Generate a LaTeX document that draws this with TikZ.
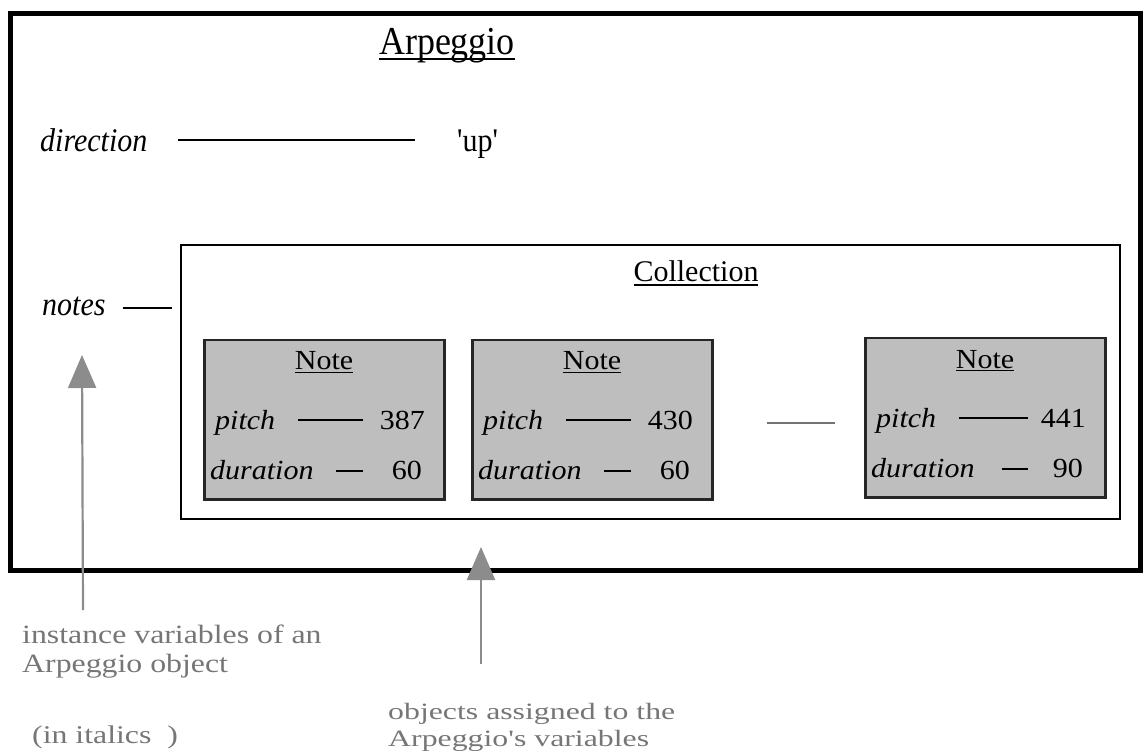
\documentclass[tikz,border=0pt]{standalone}
\usepackage{fontspec}
\setmainfont{Liberation Serif}[Ligatures=TeXOff]
\usetikzlibrary{arrows.meta,calc}

\definecolor{notefill}{HTML}{BEBEBE}
\definecolor{annot}{HTML}{767676}
\definecolor{pointer}{HTML}{8C8C8C}

% underline drawn close to the baseline, through the descenders
\newcommand{\ulword}[1]{\setbox0\hbox{#1}\rlap{\rule[-0.12em]{\wd0}{0.055em}}\box0}

\tikzset{
  frame/.style={draw=black, line width=5pt, inner sep=0pt},
  collbox/.style={draw=black, line width=2pt, inner sep=0pt},
  notebox/.style={draw=black!85, line width=2.5pt, fill=notefill, inner sep=0pt,
                  minimum width=240pt, minimum height=159pt},
  lbl/.style={inner sep=0pt, font=\fontsize{30}{34}\selectfont},
  ivar/.style={inner sep=0pt, font=\fontsize{30}{34}\selectfont\itshape},
  title/.style={inner sep=0pt, font=\fontsize{36}{40}\selectfont, yscale=1.1},
  tall/.style={yscale=1.1},
  note/.style={yscale=0.92},
  link/.style={draw=black, line width=1.6pt},
  gaplink/.style={draw=black!55, line width=1.6pt},
  ann/.style={inner sep=0pt, text=annot, font=\fontsize{30}{34}\selectfont, xscale=1.06},
  pointer/.style={draw=pointer, line width=2.2pt,
                  -{Triangle[width=28pt,length=33pt,fill=pointer]}},
}

\begin{document}
\begin{tikzpicture}[x=1pt,y=-1pt]
\useasboundingbox (0,0) rectangle (1146,751);
\fill[white] (0,0) rectangle (1146,751);

% the Arpeggio object
\node[frame, anchor=north west, minimum width=1130pt, minimum height=557pt] (arp) at (8,11) {};
\node[title, anchor=base] (arptitle) at (447,55) {\ulword{Arpeggio}};

% direction variable
\node[ivar, tall, anchor=base west] (dir) at (40,152) {direction};
\node[lbl, tall, anchor=base west] (up) at (457,152) {'up'};
\draw[link, shorten <=30pt, shorten >=42pt]
  ([yshift=12pt]dir.base east) -- ([yshift=12pt]dir.base east -| up.west);

% notes variable and its Collection
\node[collbox, anchor=north west, minimum width=939pt, minimum height=274pt] (coll) at (180,244) {};
\node[lbl, anchor=base] (colltitle) at (696,282) {\ulword{Collection}};
\node[ivar, tall, anchor=base west] (notes) at (42,316) {notes};
\draw[link, shorten <=17pt, shorten >=8pt]
  ([yshift=8pt]notes.base east) -- ([yshift=8pt]notes.base east -| coll.west);

% the Note objects held by the Collection
\foreach \nm/\L/\T/\pv/\dv/\ps/\ds/\dt in
  {n1/203/339/387/60/17/29/22, n2/471/339/430/60/17/29/22, n3/864/337/441/90/13/25/27} {
  \node[notebox, anchor=north west] (\nm) at (\L,\T) {};
  \node[lbl, note, anchor=base] (\nm-t) at ($(\nm.north west)+(121,31)$) {\ulword{Note}};
  \node[ivar, note, anchor=base west] (\nm-p) at ($(\nm.north west)+(12,90)$) {pitch};
  \node[lbl, note, anchor=base east] (\nm-pv) at ($(\nm.north west)+(222,90)$) {\pv};
  \node[ivar, note, anchor=base west] (\nm-d) at ($(\nm.north west)+(7,140)$) {duration};
  \node[lbl, note, anchor=base east] (\nm-dv) at ($(\nm.north west)+(219,140)$) {\dv};
  \draw[link, shorten <=23pt, shorten >=\ps pt]
    ([yshift=9pt]\nm-p.base east) -- ([yshift=9pt]\nm-pv.base west);
  \draw[link, shorten <=\dt pt, shorten >=\ds pt]
    ([yshift=8pt]\nm-d.base east) -- ([yshift=8pt]\nm-dv.base west);
}
\draw[gaplink, shorten <=53pt, shorten >=29pt] ([yshift=-3pt]n2.east) -- ([yshift=-3pt]n2.east -| n3.west);

% annotations below
\coordinate (ivtail) at (83,610);
\coordinate (ivtip) at (82,355);
\coordinate (objtail) at (481,664);
\coordinate (objtip) at (481,547);
\draw[pointer] (ivtail) -- (ivtip);
\draw[pointer] (objtail) -- (objtip);

\node[ann, yscale=0.88, anchor=base west] (iv1) at (22,643) {instance variables of an};
\node[ann, yscale=0.88, anchor=base west] (iv2) at (22,672) {Arpeggio object};
\node[ann, yscale=0.85, anchor=base west] (iv3) at (32,743) {(in italics\ \ )};
\node[ann, yscale=0.78, anchor=base west] (ob1) at (388,719) {objects assigned to the};
\node[ann, yscale=0.78, anchor=base west] (ob2) at (388,746) {Arpeggio's variables};
\end{tikzpicture}
\end{document}
